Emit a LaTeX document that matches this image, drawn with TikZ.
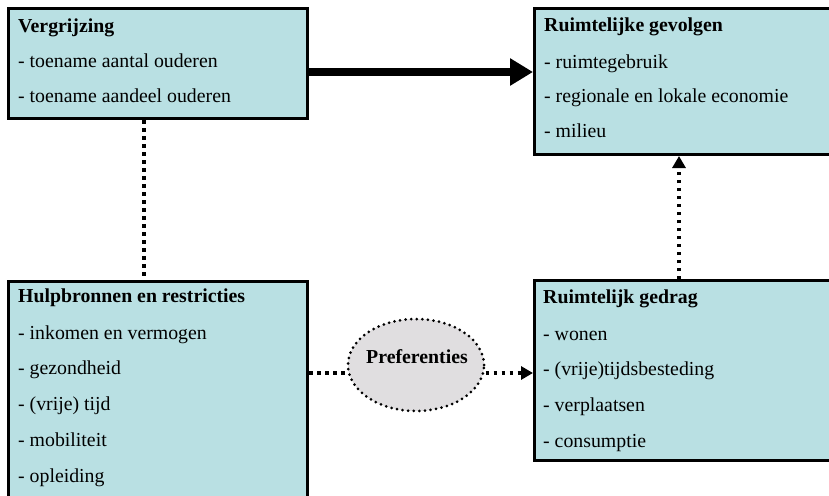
\documentclass[tikz,border=0pt]{standalone}
\usepackage{fontspec}
\setmainfont{Liberation Serif}
\usetikzlibrary{arrows.meta,shapes.geometric}
\definecolor{boxfill}{HTML}{B9E0E3}
\definecolor{ellfill}{HTML}{E0DEE0}
\begin{document}
\begin{tikzpicture}[x=1pt,y=-1pt,
  box/.style={draw=black,line width=3pt,fill=boxfill,rectangle,inner sep=0pt,anchor=north west},
  txt/.style={anchor=base west,inner sep=0pt,font=\fontsize{19.8}{23}\selectfont},
  ttl/.style={txt,font=\fontsize{19.8}{23}\selectfont\bfseries},
  dotline/.style={line width=3.5pt,dash pattern=on 3.5pt off 4.5pt},
  bigarrow/.style={line width=8pt,-{Triangle[length=23pt,width=26pt]}},
  smallarrow/.style={-{Triangle[length=12pt,width=13pt]}}
]
\useasboundingbox (0,0) rectangle (829,495);
\clip (0,0) rectangle (829,495);
% boxes
\node[box,minimum width=299pt,minimum height=110pt] (b1) at (7,7) {};
\node[box,minimum width=307pt,minimum height=146pt] (b2) at (533,7) {};
\node[box,minimum width=299pt,minimum height=225pt] (b3) at (7,280) {};
\node[box,minimum width=307pt,minimum height=180pt] (b4) at (533,279) {};
% ellipse
\node[ellipse,draw=black,fill=ellfill,line width=3pt,line cap=round,dash pattern=on 0pt off 5.6pt,
  minimum width=136pt,minimum height=92pt,inner sep=0pt] (pref) at (416,365) {};
\node[ttl,anchor=base] (preft) at (417,363) {Preferenties};
% texts box 1
\node[ttl] (t11) at (18,33) {Vergrijzing};
\node[txt] (t12) at (18,67) {- toename aantal ouderen};
\node[txt] (t13) at (18,102) {- toename aandeel ouderen};
% texts box 2
\node[ttl] (t21) at (544,32) {Ruimtelijke gevolgen};
\node[txt] (t22) at (544,68) {- ruimtegebruik};
\node[txt] (t23) at (544,102) {- regionale en lokale economie};
\node[txt] (t24) at (544,137) {- milieu};
% texts box 3
\node[ttl] (t31) at (18,302) {Hulpbronnen en restricties};
\node[txt] (t32) at (18,339) {- inkomen en vermogen};
\node[txt] (t33) at (18,374) {- gezondheid};
\node[txt] (t34) at (18,410) {- (vrije) tijd};
\node[txt] (t35) at (18,446) {- mobiliteit};
\node[txt] (t36) at (18,482) {- opleiding};
% texts box 4
\node[ttl] (t41) at (543,303) {Ruimtelijk gedrag};
\node[txt] (t42) at (543,340) {- wonen};
\node[txt] (t43) at (543,375) {- (vrije)tijdsbesteding};
\node[txt] (t44) at (543,411) {- verplaatsen};
\node[txt] (t45) at (543,447) {- consumptie};
% connectors
\coordinate (h0) at (0,72);
\coordinate (hv1) at (144,0);
\coordinate (hv2) at (679,0);
\coordinate (h2) at (0,373);
\draw[bigarrow] (b1.east |- h0) -- (b2.west |- h0);
\draw[dotline] (b1.south -| hv1) -- (b3.north -| hv1);
\draw[dotline,smallarrow] (b4.north -| hv2) -- (b2.south -| hv2);
\draw[dotline] (b3.east |- h2) -- (h2 -| pref.west);
\draw[dotline,smallarrow] (h2 -| pref.east) -- (b4.west |- h2);
\end{tikzpicture}
\end{document}
